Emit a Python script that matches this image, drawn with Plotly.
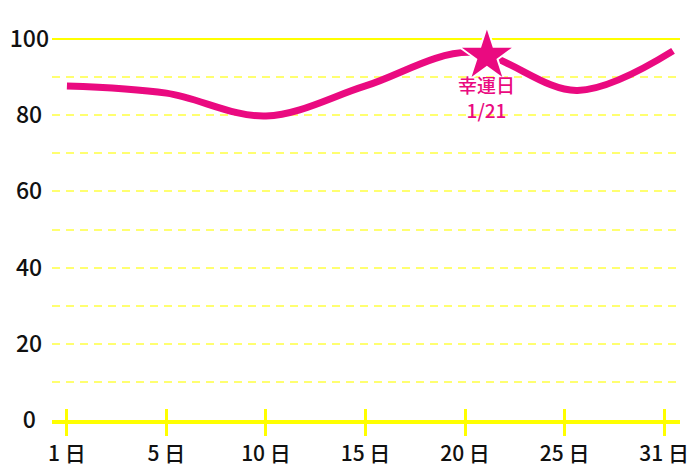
import plotly.graph_objects as go

# --- data ---
day_labels = ["1 日", "5 日", "10 日", "15 日", "20 日", "25 日", "31 日"]
slot_index = [0, 1, 2, 3, 4, 5, 6]
line_pos = [0, 1, 2, 3, 4.05, 5.13, 6.09]
line_vals = [87.7, 85.8, 79.8, 87.7, 96.5, 86.5, 96.9]
lucky_pos = [4.22]
lucky_val = [95.6]
lucky_label = "幸運日<br>1/21"
y_grid = [0, 10, 20, 30, 40, 50, 60, 70, 80, 90, 100]
y_text = ["0\u2007", "", "20\u2008", "", "40\u2008", "", "60\u2008", "", "80\u2008", "", "100"]

PINK = "#EA0A80"
YELLOW = "#FFFF00"
LIGHT_YELLOW = "#FFFF70"
FONT = "Noto Sans CJK JP"

fig = go.Figure()
fig.add_trace(go.Scatter(
    x=line_pos, y=line_vals, mode="lines",
    line=dict(color=PINK, width=7, shape="spline", smoothing=1.0),
    hoverinfo="skip", cliponaxis=False,
))
fig.add_trace(go.Scatter(
    x=lucky_pos, y=lucky_val, mode="markers",
    marker=dict(symbol="star", size=42, color=PINK, line=dict(color="white", width=2)),
    cliponaxis=False, hoverinfo="skip",
))
# invisible trace to activate overlay x axis for inside ticks
fig.add_trace(go.Scatter(x=[slot_index[0]], y=[0], xaxis="x2", yaxis="y2",
                         mode="markers", marker=dict(opacity=0), hoverinfo="skip"))

fig.add_annotation(
    x=lucky_pos[0], y=lucky_val[0], text=lucky_label, showarrow=False,
    yanchor="top", yshift=-13,
    font=dict(color=PINK, size=19, family=FONT, weight=500),
)

xr = [-0.15, 6.16]
yr = [0, 105]
fig.update_layout(
    width=700, height=467,
    margin=dict(l=52, r=20, t=20, b=47, autoexpand=False),
    paper_bgcolor="white", plot_bgcolor="white",
    showlegend=False,
    font=dict(family=FONT, color="#111111"),
    xaxis=dict(
        range=xr, tickmode="array", tickvals=slot_index, ticktext=day_labels,
        showgrid=False, zeroline=False, automargin=False,
        showline=True, linecolor=YELLOW, linewidth=4,
        ticks="outside", ticklen=12, tickwidth=3, tickcolor=YELLOW,
        tickfont=dict(size=21, color="#111111", family=FONT, weight=500),
        ticklabelstandoff=0,
    ),
    xaxis2=dict(
        range=xr, overlaying="x", anchor="y", tickmode="array", tickvals=slot_index,
        showticklabels=False, showgrid=False, zeroline=False, showline=False,
        automargin=False,
        ticks="inside", ticklen=11, tickwidth=3, tickcolor=YELLOW, side="bottom",
    ),
    yaxis=dict(
        range=yr, tickmode="array", tickvals=y_grid, ticktext=y_text,
        showgrid=True, gridcolor=LIGHT_YELLOW, gridwidth=2, griddash="8px,6px",
        zeroline=False, showline=False, ticks="", automargin=False,
        tickfont=dict(size=23, color="#111111", family=FONT, weight=500),
        ticklabelstandoff=2,
    ),
    yaxis2=dict(
        range=yr, overlaying="y", anchor="x", tickmode="array", tickvals=[100],
        showticklabels=False, showgrid=True, gridcolor=YELLOW, gridwidth=2,
        zeroline=False, showline=False, automargin=False,
    ),
)

fig.write_html(
    "out.html",
    config={"displayModeBar": False},
    post_script="document.body.style.margin='0';document.body.style.overflow='hidden';",
)
